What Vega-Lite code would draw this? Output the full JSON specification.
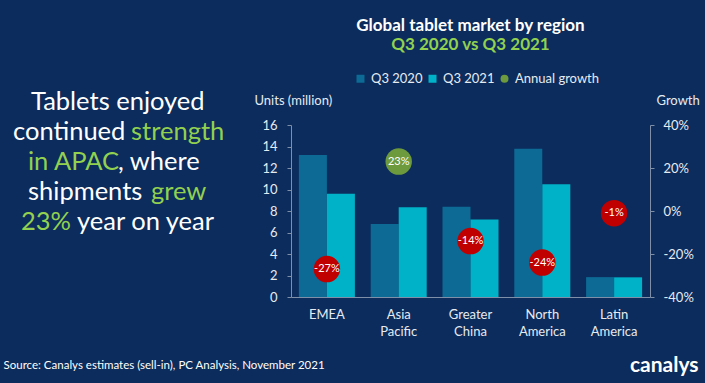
{
  "$schema": "https://vega.github.io/schema/vega-lite/v6.json",
  "background": "#0b2c5c",
  "padding": {"left": 0, "top": 17, "right": 10, "bottom": 10},
  "bounds": "flush",
  "spacing": 51,
  "resolve": {"scale": {"color": "independent"}, "legend": {"color": "independent"}},
  "config": {
    "font": "Lato",
    "locale": {"number": {"decimal": ".", "thousands": ",", "grouping": [3], "currency": ["$", ""], "minus": "-"}},
    "view": {"stroke": null},
    "axis": {"grid": false, "labelFont": "Lato", "titleFont": "Lato", "labelColor": "#e6ebf2", "titleColor": "#e6ebf2", "domainColor": "#7f8fa8", "tickColor": "#7f8fa8", "labelFontSize": 13, "titleFontSize": 13, "titleFontWeight": "normal"}
  },
  "datasets": {
    "units": [
      {"region": "EMEA", "series": "Q3 2020", "units": 13.2},
      {"region": "EMEA", "series": "Q3 2021", "units": 9.6},
      {"region": "Asia Pacific", "series": "Q3 2020", "units": 6.8},
      {"region": "Asia Pacific", "series": "Q3 2021", "units": 8.35},
      {"region": "Greater China", "series": "Q3 2020", "units": 8.4},
      {"region": "Greater China", "series": "Q3 2021", "units": 7.2},
      {"region": "North America", "series": "Q3 2020", "units": 13.8},
      {"region": "North America", "series": "Q3 2021", "units": 10.5},
      {"region": "Latin America", "series": "Q3 2020", "units": 1.85},
      {"region": "Latin America", "series": "Q3 2021", "units": 1.83}
    ],
    "growth": [
      {"region": "EMEA", "series": "Annual growth", "growth": -0.27},
      {"region": "Asia Pacific", "series": "Annual growth", "growth": 0.23},
      {"region": "Greater China", "series": "Annual growth", "growth": -0.14},
      {"region": "North America", "series": "Annual growth", "growth": -0.24},
      {"region": "Latin America", "series": "Annual growth", "growth": -0.01}
    ],
    "headline": [
      {"line": 1, "text": "Tablets enjoyed", "start": 31, "hl": "no"},
      {"line": 2, "text": "continued", "start": 13, "hl": "no"},
      {"line": 2, "text": "strength", "start": 131, "hl": "yes"},
      {"line": 3, "text": "in APAC", "start": 28, "hl": "yes"},
      {"line": 3, "text": ", where", "start": 118, "hl": "no"},
      {"line": 4, "text": "shipments", "start": 28, "hl": "no"},
      {"line": 4, "text": "grew", "start": 151, "hl": "yes"},
      {"line": 5, "text": "23%", "start": 21, "hl": "yes"},
      {"line": 5, "text": "year on year", "start": 77, "hl": "no"}
    ]
  },
  "hconcat": [
    {
      "width": 240,
      "height": 172,
      "data": {"name": "headline"},
      "mark": {"type": "text", "align": "left", "baseline": "middle", "fontSize": 25.5, "font": "Lato"},
      "encoding": {
        "x": {"field": "start", "type": "quantitative", "scale": {"domain": [0, 240]},
          "axis": {"domain": false, "labels": false, "ticks": false, "grid": false, "title": "Source: Canalys estimates (sell-in), PC Analysis, November 2021", "titleX": 3, "titleY": 68, "titleAlign": "left", "titleBaseline": "middle", "titleFontSize": 11.5, "titleFontWeight": "normal", "titleColor": "#ffffff", "titleLimit": 600}},
        "y": {"field": "line", "type": "quantitative", "scale": {"domain": [1.7667, 7.5], "reverse": true, "zero": false, "nice": false}, "axis": null},
        "text": {"field": "text"},
        "color": {"field": "hl", "type": "nominal", "scale": {"domain": ["no", "yes"], "range": ["#ffffff", "#92d050"]}, "legend": null}
      }
    },
    {
      "width": 359,
      "height": 172,
      "title": {"text": "Global tablet market by region", "subtitle": "Q3 2020 vs Q3 2021", "anchor": "middle", "frame": "group", "fontSize": 17, "fontWeight": "bold", "color": "#ffffff", "subtitleFontSize": 17, "subtitleFontWeight": "bold", "subtitleColor": "#92d050", "subtitlePadding": 2, "offset": 18, "font": "Lato", "subtitleFont": "Lato"},
      "layer": [
        {
          "data": {"name": "units"},
          "mark": {"type": "bar"},
          "encoding": {
            "x": {"field": "region", "type": "nominal", "sort": ["EMEA", "Asia Pacific", "Greater China", "North America", "Latin America"], "scale": {"paddingInner": 0.22, "paddingOuter": 0.11},
              "axis": {"title": "canalys", "titleX": 407, "titleY": 68, "titleAlign": "right", "titleBaseline": "middle", "titleFontSize": 21, "titleFontWeight": "bold", "titleColor": "#ffffff", "labelAngle": 0, "labelExpr": "split(datum.label, ' ')", "labelLineHeight": 17, "labelPadding": 11, "ticks": false, "labelBaseline": "top"}},
            "xOffset": {"field": "series", "sort": ["Q3 2020", "Q3 2021"]},
            "y": {"field": "units", "type": "quantitative", "scale": {"domain": [0, 16], "nice": false},
              "axis": {"title": "Units (million)", "values": [0, 2, 4, 6, 8, 10, 12, 14, 16], "titleAngle": 0, "titleX": -37, "titleY": -25, "titleAlign": "left", "titleBaseline": "middle", "tickSize": 4, "labelPadding": 10}},
            "color": {"field": "series", "type": "nominal", "scale": {"domain": ["Q3 2020", "Q3 2021", "Annual growth"], "range": ["#0d6a94", "#00b2c7", "#6d9a3c"]},
              "legend": {"orient": "none", "legendX": 63, "legendY": -53, "direction": "horizontal", "title": null, "symbolSize": 64, "labelFontSize": 13, "labelColor": "#e6ebf2", "columnPadding": 3, "labelOffset": 4, "symbolStrokeWidth": 0,
                "encode": {"symbols": {"update": {"shape": {"signal": "datum.label == 'Annual growth' ? 'circle' : 'square'"}}}}}}
          }
        },
        {
          "data": {"name": "growth"},
          "layer": [
            {
              "mark": {"type": "point", "filled": true, "size": 700, "opacity": 1},
              "encoding": {
                "x": {"field": "region", "type": "nominal", "sort": ["EMEA", "Asia Pacific", "Greater China", "North America", "Latin America"]},
                "y": {"field": "growth", "type": "quantitative", "scale": {"domain": [-0.4, 0.4], "nice": false},
                  "axis": {"orient": "right", "title": "Growth", "format": ".0%", "values": [-0.4, -0.2, 0, 0.2, 0.4], "titleAngle": 0, "titleX": 6, "titleY": -25, "titleAlign": "left", "titleBaseline": "middle", "tickSize": 4, "labelPadding": 9}},
                "color": {"condition": {"test": "datum.growth < 0", "value": "#c00000"}, "field": "series", "type": "nominal"}
              }
            },
            {
              "mark": {"type": "text", "color": "#ffffff", "fontSize": 11, "baseline": "middle", "align": "center"},
              "encoding": {
                "x": {"field": "region", "type": "nominal", "sort": ["EMEA", "Asia Pacific", "Greater China", "North America", "Latin America"]},
                "y": {"field": "growth", "type": "quantitative"},
                "text": {"field": "growth", "type": "quantitative", "format": ".0%"}
              }
            }
          ]
        }
      ],
      "resolve": {"scale": {"y": "independent"}}
    }
  ]
}
